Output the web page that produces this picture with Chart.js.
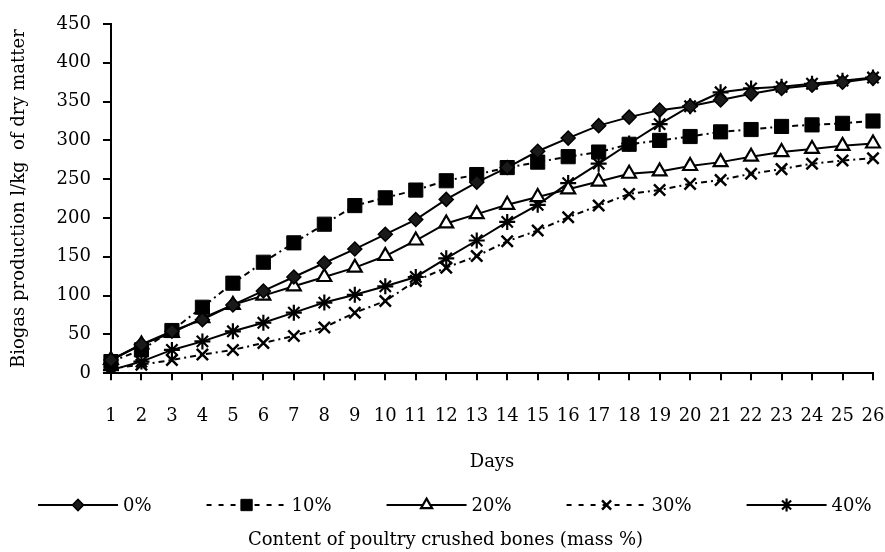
<!DOCTYPE html>
<html>
<head>
<meta charset="utf-8">
<script src="https://cdn.jsdelivr.net/npm/chart.js@4"></script>
<style>
  html, body { margin: 0; padding: 0; background: #fff; }
  #wrap { width: 885px; height: 552px; }
</style>
</head>
<body>
<div id="wrap"><canvas id="biogasChart" width="885" height="552"></canvas></div>
<script>
// days of digestion
var days = ['1','2','3','4','5','6','7','8','9','10','11','12','13','14','15','16','17','18','19','20','21','22','23','24','25','26'];
var seriesNames = ['0%', '10%', '20%', '30%', '40%'];

// biogas production, l/kg of dry matter
var bones0  = [17, 37, 54, 69, 88, 106, 124, 142, 160, 179, 198, 224, 246, 265, 286, 303, 319, 330, 339, 344, 352, 360, 367, 371, 375, 380];
var bones10 = [15, 30, 55, 85, 116, 143, 168, 192, 216, 226, 236, 248, 256, 265, 272, 279, 285, 295, 300, 305, 311, 314, 318, 320, 322, 325];
var bones20 = [17, 37, 52, 71, 88, 100, 112, 124, 136, 151, 171, 193, 205, 217, 227, 237, 247, 257, 260, 267, 272, 279, 285, 289, 293, 296];
var bones30 = [6, 11, 17, 24, 30, 39, 48, 59, 78, 93, 119, 136, 151, 170, 184, 201, 216, 231, 236, 244, 249, 257, 263, 270, 274, 277];
var bones40 = [4, 15, 30, 41, 54, 65, 78, 91, 101, 112, 124, 148, 171, 195, 217, 245, 270, 296, 321, 344, 362, 367, 369, 373, 377, 381];

var serif = "'DejaVu Serif', 'Liberation Serif', serif";
var dashDot = [6, 4, 2, 4];

var styles = [
  { pointStyle: 'rectRot',  radius: 7,  fill: '#1a1a1a', bw: 1.5, dash: [] },
  { pointStyle: 'rect',     radius: 10, fill: '#000', bw: 1,   dash: dashDot },
  { pointStyle: 'triangle', radius: 8,  fill: '#fff', bw: 2.2, dash: [] },
  { pointStyle: 'crossRot', radius: 8,  fill: '#000', bw: 2.5, dash: dashDot },
  { pointStyle: 'star',     radius: 8,  fill: '#000', bw: 2.2, dash: [] }
];
var values = [bones0, bones10, bones20, bones30, bones40];

var datasets = seriesNames.map(function (name, i) {
  var s = styles[i];
  return {
    label: name,
    data: values[i],
    borderColor: '#000',
    borderWidth: 2,
    borderDash: s.dash,
    tension: 0,
    pointStyle: s.pointStyle,
    pointRadius: s.radius,
    pointHoverRadius: s.radius,
    pointBackgroundColor: s.fill,
    pointBorderColor: '#000',
    pointBorderWidth: s.bw
  };
});

// legend row: line + marker, then the label, like the printed figure
var lineLegend = {
  id: 'lineLegend',
  afterDraw: function (chart) {
    var g = chart.ctx;
    var y = 505, x = 38, lineLen = 80, textGap = 5, itemGap = 55;
    g.save();
    g.font = '18px ' + serif;
    g.textBaseline = 'middle';
    chart.data.datasets.forEach(function (ds, i) {
      var s = styles[i];
      g.strokeStyle = '#000';
      g.lineWidth = 2;
      g.setLineDash(s.dash.length ? [5, 7] : []);
      g.beginPath();
      g.moveTo(x, y); g.lineTo(x + lineLen, y);
      g.stroke();
      g.setLineDash([]);
      g.fillStyle = s.fill;
      g.lineWidth = s.bw;
      Chart.helpers.drawPoint(g, { pointStyle: s.pointStyle, radius: s.radius * 0.8, rotation: 0, borderWidth: s.bw }, x + lineLen / 2, y);
      g.fillStyle = '#000';
      g.fillText(ds.label, x + lineLen + textGap, y + 1);
      x += lineLen + textGap + g.measureText(ds.label).width + itemGap;
    });
    g.restore();
  }
};

var ctx = document.getElementById('biogasChart').getContext('2d');
var biogasChart = new Chart(ctx, {
  type: 'line',
  data: { labels: days, datasets: datasets },
  plugins: [lineLegend],
  options: {
    responsive: false,
    animation: false,
    layout: { padding: { left: 6, right: 0, top: 24, bottom: 0 } },
    scales: {
      x: {
        offset: false,
        grid: { drawOnChartArea: false, drawTicks: true, tickLength: 7, color: '#000', lineWidth: 2 },
        border: { display: true, color: '#000', width: 2 },
        ticks: { color: '#000', font: { family: serif, size: 18 }, padding: 25, maxRotation: 0, autoSkip: false },
        title: { display: true, text: 'Days', color: '#000', font: { family: serif, size: 18 }, padding: { top: 0, bottom: 6 } },
        afterFit: function (scale) { scale.paddingRight = 12; }
      },
      y: {
        min: 0,
        max: 450,
        grid: { drawOnChartArea: false, drawTicks: true, tickLength: 8, color: '#000', lineWidth: 2 },
        border: { display: true, color: '#000', width: 2 },
        ticks: { stepSize: 50, color: '#000', font: { family: serif, size: 18 }, padding: 12 },
        title: { display: true, text: 'Biogas production l/kg  of dry matter', color: '#000', font: { family: serif, size: 18 }, padding: { top: 3, bottom: 14 } }
      }
    },
    plugins: {
      legend: { display: false },
      title: {
        display: true,
        position: 'bottom',
        text: 'Content of poultry crushed bones (mass %)',
        color: '#000',
        font: { family: serif, size: 18, weight: 'normal' },
        padding: { top: 50, bottom: 1 }
      },
      tooltip: { enabled: false }
    }
  }
});
</script>
</body>
</html>
